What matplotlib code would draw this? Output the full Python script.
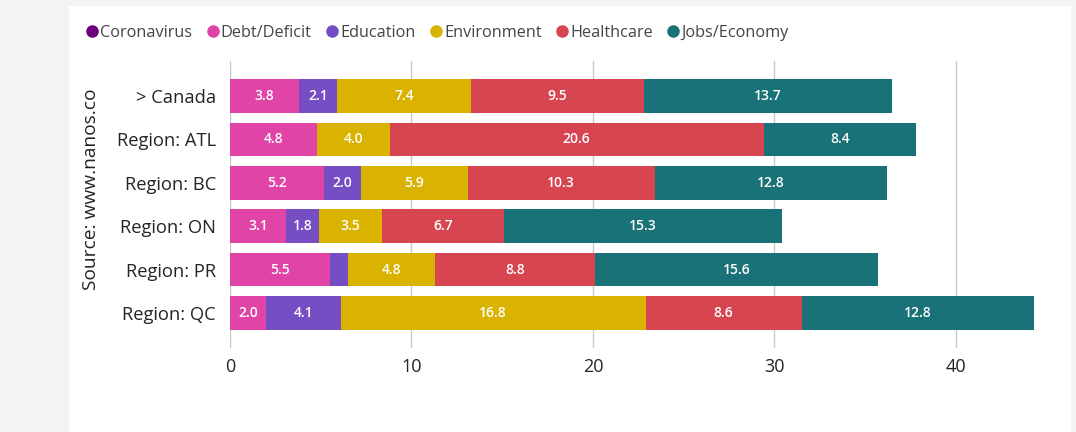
import matplotlib.pyplot as plt
from matplotlib.patches import Rectangle
from matplotlib.lines import Line2D

# data
regions = ["> Canada", "Region: ATL", "Region: BC", "Region: ON", "Region: PR", "Region: QC"]
series = ["Coronavirus", "Debt/Deficit", "Education", "Environment", "Healthcare", "Jobs/Economy"]
coronavirus = [0, 0, 0, 0, 0, 0]
debt = [3.8, 4.8, 5.2, 3.1, 5.5, 2.0]
education = [2.1, 0, 2.0, 1.8, 1.0, 4.1]
environment = [7.4, 4.0, 5.9, 3.5, 4.8, 16.8]
healthcare = [9.5, 20.6, 10.3, 6.7, 8.8, 8.6]
jobs = [13.7, 8.4, 12.8, 15.3, 15.6, 12.8]
colors = ["#6B007B", "#E044A7", "#744EC2", "#D9B300", "#D64550", "#197278"]

plt.rcParams['font.family'] = ['Open Sans', 'DejaVu Sans']

fig = plt.figure(figsize=(10.76, 4.32), dpi=100, facecolor="#f3f3f3")
# white card behind the visual
fig.patches.append(Rectangle((69 / 1076, 0), 1002 / 1076, 1 - 6 / 432,
                             transform=fig.transFigure, facecolor="white",
                             edgecolor="none", zorder=-5))

ax = fig.add_axes([230 / 1076, 1 - 348 / 432, 813 / 1076, 287 / 432])
ax.set_zorder(2)
ax.set_facecolor("none")

values = [coronavirus, debt, education, environment, healthcare, jobs]
ypos = list(range(len(regions)))
left = [0.0] * len(regions)
for vals, col in zip(values, colors):
    bars = ax.barh(ypos, vals, left=left, height=0.78, color=col, zorder=3)
    for b, v in zip(bars, vals):
        if v >= 1.5:
            ax.text(b.get_x() + b.get_width() / 2, b.get_y() + b.get_height() / 2,
                    f"{v:.1f}", ha="center", va="center", color="white",
                    fontsize=10, fontweight="semibold", zorder=4)
    left = [l + v for l, v in zip(left, vals)]

ax.set_xlim(0, 44.8)
ax.set_ylim(5.81, -0.81)
ax.set_yticks(ypos)
ax.set_yticklabels(regions, fontsize=13.2, color="#252423")
ax.set_xticks([0, 10, 20, 30, 40])
ax.tick_params(axis="x", labelsize=13, colors="#252423", length=0, pad=7)
ax.tick_params(axis="y", length=0, pad=10)
ax.grid(axis="x", color="#c8c8c8", linewidth=1, zorder=0)
for s in ax.spines.values():
    s.set_visible(False)

fig.text(91 / 1076, 1 - 189 / 432, "Source: www.nanos.co", rotation=90,
         ha="center", va="center", fontsize=13.8, color="#252423")

handles = [Line2D([], [], marker="o", linestyle="none", markersize=8,
                  markerfacecolor=c, markeredgecolor=c) for c in colors]
fig.legend(handles, series, loc="center left", bbox_to_anchor=(72 / 1076, 1 - 33 / 432),
           ncol=6, frameon=False, handlelength=0.7, handletextpad=0.15,
           columnspacing=0.9, fontsize=11.7, labelcolor="#444444")

fig.savefig("out.png", dpi=100, facecolor=fig.get_facecolor())
